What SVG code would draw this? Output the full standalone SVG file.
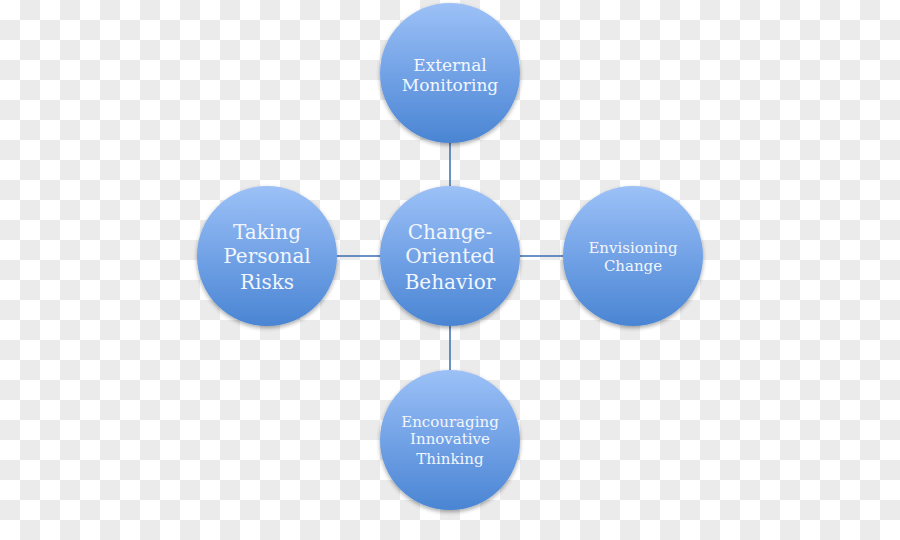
<svg xmlns="http://www.w3.org/2000/svg" width="900" height="540" viewBox="0 0 900 540">
<defs>
<pattern id="checker" x="0" y="0" width="40" height="40" patternUnits="userSpaceOnUse">
<rect width="40" height="40" fill="#ffffff"/>
<rect x="20" y="0" width="20" height="20" fill="#ebebeb"/>
<rect x="0" y="20" width="20" height="20" fill="#ebebeb"/>
</pattern>
<linearGradient id="ball" x1="0" y1="0" x2="0" y2="1">
<stop offset="0" stop-color="#9cc1f7"/>
<stop offset="0.5" stop-color="#72a2e6"/>
<stop offset="1" stop-color="#4a85d3"/>
</linearGradient>
<filter id="shadow" x="-20%" y="-20%" width="140%" height="140%">
<feGaussianBlur in="SourceAlpha" stdDeviation="2"/>
<feOffset dx="0" dy="2" result="b"/>
<feComponentTransfer><feFuncA type="linear" slope="0.35"/></feComponentTransfer>
<feMerge><feMergeNode/><feMergeNode in="SourceGraphic"/></feMerge>
</filter>
</defs>
<style>
.node circle { fill: url(#ball); filter: url(#shadow); }
.node text { fill: #f2f6fc; font-family: "DejaVu Serif", "Liberation Serif", serif; text-anchor: middle; }
.conn line { stroke: #3a6db3; stroke-width: 1.5; }
</style>
<rect width="900" height="540" fill="url(#checker)"/>
<g id="connectors" class="conn">
<line x1="450" y1="142" x2="450" y2="187"/>
<line x1="450" y1="325" x2="450" y2="371"/>
<line x1="336" y1="256" x2="381" y2="256"/>
<line x1="519" y1="256" x2="564" y2="256"/>
</g>
<g id="n-top" class="node">
<circle cx="450" cy="73" r="70"/>
<text x="450" y="71" font-size="17">External</text>
<text x="450" y="91" font-size="17">Monitoring</text>
</g>
<g id="n-left" class="node">
<circle cx="267" cy="256" r="70"/>
<text x="267" y="239" font-size="20">Taking</text>
<text x="267" y="263" font-size="20">Personal</text>
<text x="267" y="289" font-size="20">Risks</text>
</g>
<g id="n-center" class="node">
<circle cx="450" cy="256" r="70"/>
<text x="450" y="239" font-size="20">Change-</text>
<text x="450" y="263" font-size="20">Oriented</text>
<text x="450" y="289" font-size="20">Behavior</text>
</g>
<g id="n-right" class="node">
<circle cx="633" cy="256" r="70"/>
<text x="633" y="253" font-size="15">Envisioning</text>
<text x="633" y="271" font-size="15">Change</text>
</g>
<g id="n-bottom" class="node">
<circle cx="450" cy="440" r="70"/>
<text x="450" y="427" font-size="15">Encouraging</text>
<text x="450" y="444" font-size="15">Innovative</text>
<text x="450" y="464" font-size="15">Thinking</text>
</g>
</svg>
